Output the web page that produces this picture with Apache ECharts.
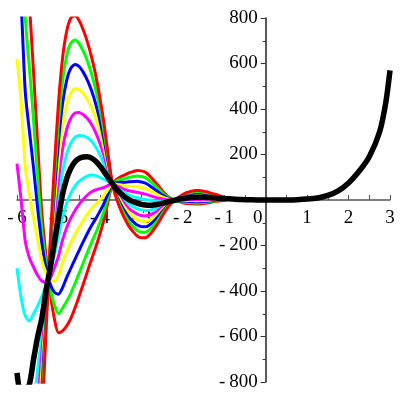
<!DOCTYPE html>
<html><head><meta charset="utf-8">
<script src="https://cdn.jsdelivr.net/npm/echarts@6/dist/echarts.min.js"></script>
<style>html,body{margin:0;padding:0;background:#fff}#c{width:400px;height:400px}</style>
</head><body><div id="c"></div>
<script>
const xs = [-6.0,-5.9,-5.8,-5.7,-5.6,-5.5,-5.4,-5.3,-5.2,-5.1,-5.0,-4.9,-4.8,-4.7,-4.6,-4.5,-4.4,-4.3,-4.2,-4.1,-4.0,-3.9,-3.8,-3.7,-3.6,-3.5,-3.4,-3.3,-3.2,-3.1,-3.0,-2.9,-2.8,-2.7,-2.6,-2.5,-2.4,-2.3,-2.2,-2.1,-2.0,-1.9,-1.8,-1.7,-1.6,-1.5,-1.4,-1.3,-1.2,-1.1,-1.0,-0.8,-0.6,-0.4];

const redArch = [-3520,-3440,-2806,-2478,-1960,-1440,-982,-580,-192,140,424,625,743,800,810,789,747,694,628,548,450,335,200,72,6,-42,-82,-115,-139,-158,-166,-166,-152,-130,-103,-72,-43,-18.8,-1,12,24,33,38,42,42,39,35,29,24,18,12,4,0,-1];
const greenArch = [-3060,-3010,-2478,-2200,-1750,-1300,-905,-550,-210,85,340,525,635,690,703,688,654,610,554,485,400,300,183,72,13,-30,-66,-95.5,-117,-134,-141.5,-142,-130.5,-112,-89,-62.5,-37.5,-16.5,-1,10,21,29,33,37,37,34,31,26,21,16,11,4,0.5,-0.5];
const blueArch = [-2600,-2580,-2150,-1922,-1540,-1160,-828,-520,-228,30,256,425,527,580,596,587,561,526,480,422,350,265,166,72,20,-18,-50,-76,-95,-110,-117,-118,-109,-94,-75,-53,-32,-14.2,-1,9,18,25,29,32,32,30,27,23,19,14,10,4,1,0];
const yellowArch = [-2140,-2150,-1822,-1644,-1330,-1020,-751,-490,-246,-25,172,325,419,470,489,486,468,442,406,359,300,230,149,72,27,-6,-34,-56.5,-73,-86,-92.5,-94,-87.5,-76,-61,-43.5,-26.5,-11.9,-1,7.5,15,21,24.5,27,27,25.5,23,19.6,16.5,12.4,9,4,1.1,0.1];
const magentaArch = [-1680,-1720,-1494,-1366,-1120,-880,-674,-460,-264,-80,88,225,311,360,382,385,375,358,332,296,250,195,132,72,34,6,-18,-37,-51,-62,-68,-70,-66,-58,-47,-34,-21,-9.6,-1,6,12,17,20,22,22,21,19,16.4,14,10.6,8,4,1.4,0.4];
const cyanArch = [-1220,-1290,-1166,-1088,-910,-740,-597,-430,-282,-135,4,125,203,250,275,284,282,274,258,233,200,160,115,72,41,18,-2,-17.5,-29,-38,-43.5,-46,-44.5,-40,-33,-24.5,-15.5,-7.3,-1,4.5,9,13,15.5,17,17,16.5,15,13.2,11.5,8.8,7,4,1.7,0.7];
const cyanTrough = [-300,-430,-510,-532,-500,-465,-425,-375,-318,-245,-164,-75,-13,30,61,82,96,106,110,107,100,90,81,72,55,42,30,21.5,15,10,5.5,2,-1.5,-4,-5,-5.5,-4.5,-2.7,-1,1.5,3,5,6.5,7,7,7.5,7,6.8,6.5,5.2,5,4,2.3,1.3];
const magentaTrough = [160,0,-182,-254,-295,-332,-356,-362,-345,-300,-248,-175,-121,-80,-46,-19,3,22,36,44,50,55,64,72,62,54,46,41,37,34,30,26,20,14,9,4,1,-0.4,-1,0,0,1,2,2,2,3,3,3.6,4,3.4,4,4,2.6,1.6];
const yellowTrough = [620,430,146,24,-80,-175,-265,-320,-350,-357,-332,-275,-229,-190,-153,-120,-90,-62,-38,-19,0,20,47,72,69,66,62,60.5,59,58,54.5,50,41.5,32,23,13.5,6.5,1.9,-1,-1.5,-3,-3,-2.5,-3,-3,-1.5,-1,0.4,1.5,1.6,3,4,2.9,1.9];
const blueTrough = [1080,860,474,302,140,-40,-190,-300,-368,-405,-414,-385,-340,-300,-260,-221,-183,-146,-112,-82,-50,-15,30,72,76,78,78,80,81,82,79,74,63,50,37,23,12,4.2,-1,-3,-6,-7,-7,-8,-8,-6,-5,-2.8,-1,-0.2,2,4,3.2,2.2];
const greenTrough = [1540,1290,802,580,350,100,-135,-275,-390,-460,-500,-475,-445,-410,-367,-322,-276,-230,-186,-145,-100,-50,13,72,83,90,94,99.5,103,106,103.5,98,84.5,68,51,32.5,17.5,6.5,-1,-4.5,-9,-11,-11.5,-13,-13,-10.5,-9,-6,-3.5,-2,1,4,3.5,2.5];
const redTrough = [2000,1720,1130,858,560,240,-58,-245,-405,-520,-584,-575,-553,-520,-474,-423,-369,-314,-260,-208,-150,-85,-4,72,90,102,110,119,125,130,128,122,106,86,65,42,23,8.8,-1,-6,-12,-15,-16,-18,-18,-15,-13,-9.2,-6,-3.8,0,4,3.8,2.8];

const blackX = [-6.0,-5.9,-5.8,-5.7,-5.6,-5.5,-5.4,-5.3,-5.2,-5.1,-5.0,-4.9,-4.8,-4.7,-4.6,-4.5,-4.4,-4.3,-4.2,-4.1,-4.0,-3.9,-3.8,-3.7,-3.6,-3.5,-3.4,-3.3,-3.2,-3.1,-3.0,-2.9,-2.8,-2.7,-2.6,-2.5,-2.4,-2.3,-2.2,-2.1,-2.0,-1.9,-1.8,-1.7,-1.6,-1.5,-1.4,-1.3,-1.2,-1.1,-1.0,-0.8,-0.6,-0.4,-0.2,0,0.25,0.5,0.75,1.0,1.25,1.5,1.75,2.0,2.25,2.5,2.75,2.9,3.0];
const blackY = [-760,-860,-838,-810,-700,-600,-520,-400,-300,-190,-80,25,95,140,168,183,189,190,184,170,150,125,98,72,48,30,14,2,-7,-14,-19,-22,-23,-22,-19,-15,-10,-5,-1,3,6,9,11,12,12,12,11,10,9,7,6,4,2,1,0,0,0,0.4,1.5,4,9,20,40,75,125,190,300,430,570];

const xTicks = [-6,-5,-4,-3,-2,-1,0,1,2,3];
const yTicks = [-800,-600,-400,-200,200,400,600,800];

const curves = [
  ['#FF0000', redTrough], ['#00FF00', greenTrough], ['#0000FF', blueTrough],
  ['#FFFF00', yellowTrough], ['#FF00FF', magentaTrough], ['#00FFFF', cyanTrough],
  ['#00FFFF', cyanArch], ['#FF00FF', magentaArch], ['#FFFF00', yellowArch],
  ['#0000FF', blueArch], ['#00FF00', greenArch], ['#FF0000', redArch]
];

function fmt(v) {
  if (v < 0) return '-\u2009' + Math.abs(v);
  return String(v);
}

const GL = 17, GR = 10, GT = 18, GB = 18;
const W = 400, H = 400;
const plotW = W - GL - GR, plotH = H - GT - GB;
const yAxisOffset = -plotW * (0 - (-6)) / (3 - (-6));
const xAxisOffset = -plotH * (0 - (-800)) / (800 - (-800));

const series = curves.map(([col, ys]) => ({
  type: 'line', showSymbol: false, smooth: 0.25, clip: true,
  lineStyle: { color: col, width: 3 },
  data: xs.map((x, i) => [x, ys[i]])
}));
series.push({
  type: 'line', showSymbol: false, smooth: 0.25, clip: true,
  lineStyle: { color: '#000', width: 5.5 },
  data: blackX.map((x, i) => [x, blackY[i]])
});

const chart = echarts.init(document.getElementById('c'), null, { renderer: 'canvas' });
chart.setOption({
  animation: false,
  backgroundColor: '#fff',
  grid: { left: GL, right: GR, top: GT, bottom: GB, containLabel: false, outerBoundsMode: 'none' },
  xAxis: {
    type: 'value', min: -6, max: 3, interval: 1, position: 'bottom', offset: xAxisOffset,
    axisLine: { onZero: false, lineStyle: { color: '#555', width: 1.5 } },
    axisTick: { show: true, inside: true, length: 5, lineStyle: { color: '#555' } },
    minorTick: { show: true, splitNumber: 2, length: 5, lineStyle: { color: '#555' } },
    splitLine: { show: false },
    axisLabel: {
      margin: 9, fontFamily: 'Liberation Serif', fontSize: 19, color: '#000',
      formatter: v => xTicks.includes(v) ? (v === 0 ? '{z|0}' : fmt(v)) : '',
      rich: { z: { fontFamily: 'Liberation Serif', fontSize: 19, color: '#000', padding: [0, 16, 0, 0] } }
    }
  },
  yAxis: {
    type: 'value', min: -800, max: 800, interval: 200, position: 'left', offset: yAxisOffset,
    axisLine: { onZero: false, lineStyle: { color: '#222', width: 1.5 } },
    axisTick: { show: true, inside: false, length: 5, lineStyle: { color: '#333' } },
    minorTick: { show: true, splitNumber: 2, length: 3, lineStyle: { color: '#333' } },
    splitLine: { show: false },
    axisLabel: {
      margin: 8, fontFamily: 'Liberation Serif', fontSize: 19, color: '#000',
      formatter: v => yTicks.includes(v) ? fmt(v) : ''
    }
  },
  series: series
});
</script></body></html>
